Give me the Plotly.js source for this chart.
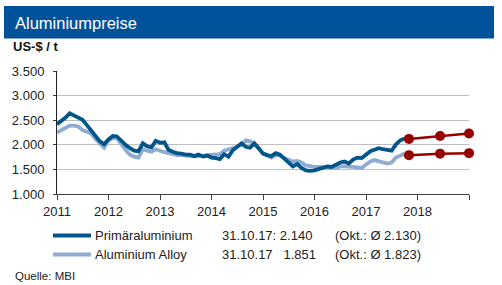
<!DOCTYPE html>
<html>
<head>
<meta charset="utf-8">
<script src="https://cdn.plot.ly/plotly-3.0.1.min.js"></script>
<style>
  html, body { margin: 0; padding: 0; background: #ffffff; }
  #chart { width: 502px; height: 285px; }
</style>
</head>
<body>
<div id="chart"></div>
<script>
// Monthly aluminium prices, US-$ per tonne, Jan 2011 – Oct 2017
const startYear = 2011;
const primaer = [
  2420, 2480, 2550, 2640, 2600, 2540, 2510, 2400, 2300, 2180, 2070, 2010,
  2110, 2180, 2170, 2070, 2000, 1930, 1880, 1870, 2030, 1970, 1950, 2080,
  2040, 2050, 1900, 1860, 1830, 1820, 1800, 1800, 1770, 1800, 1760, 1780,
  1740, 1730, 1710, 1810, 1760, 1890, 1950, 2030, 1960, 1940, 2030, 1930,
  1820, 1790, 1770, 1830, 1800, 1720, 1640, 1560, 1610, 1530, 1480, 1470,
  1480, 1510, 1530, 1560, 1550, 1600, 1640, 1660, 1620, 1700, 1740, 1730,
  1800, 1870, 1900, 1930, 1910, 1890, 1880, 2010, 2090, 2130
];
const alloy = [
  2250, 2300, 2360, 2390, 2390, 2370, 2300, 2260, 2230, 2120, 2020, 1940,
  2090, 2140, 2130, 2000, 1900, 1800, 1760, 1740, 1910, 1880, 1860, 1910,
  1870, 1850, 1830, 1800, 1790, 1790, 1780, 1770, 1780, 1770, 1780, 1790,
  1790, 1800, 1810, 1880, 1900, 1940, 1960, 2000, 2090, 2070, 2020, 1940,
  1830, 1780, 1740, 1790, 1780, 1730, 1700, 1660, 1670, 1640, 1580, 1560,
  1550, 1550, 1540, 1540, 1530, 1530, 1560, 1560, 1560, 1550, 1540, 1530,
  1600, 1660, 1690, 1670, 1650, 1620, 1640, 1740, 1780, 1823
];

// Forecast points
const forecastDates = ['2017-11-01', '2018-06-10', '2019-01-01'];
const primaerForecast = [2120, 2180, 2230];
const alloyForecast = [1790, 1820, 1830];

// Axis ticks
const yearTicks = ['2011', '2012', '2013', '2014', '2015', '2016', '2017', '2018', '2019'];
const yearLabels = ['2011', '2012', '2013', '2014', '2015', '2016', '2017', '2018', ''];

// Legend texts
const seriesNames = ['Primäraluminium', 'Aluminium Alloy'];
const spotTexts = ['31.10.17: 2.140', '31.10.17   1.851'];
const avgTexts = ['(Okt.: Ø 2.130)', '(Okt.: Ø 1.823)'];

const months = primaer.map((_, i) => {
  const y = startYear + Math.floor(i / 12);
  const m = (i % 12) + 1;
  return y + '-' + String(m).padStart(2, '0') + '-01';
});

const DARK = '#00568A';
const LIGHT = '#8EABD3';
const RED = '#980000';
const FONT = 'Liberation Sans, Arial, sans-serif';

// Plot-area geometry in pixels
const W = 502, H = 285;
const L = 57, R = 469, T = 71, B = 194;
const px2x = p => (p - L) / (R - L);
const px2y = p => (B - p) / (B - T);

const traces = [
  { x: months, y: alloy, type: 'scatter', mode: 'lines',
    line: { color: LIGHT, width: 3.8 }, hoverinfo: 'skip' },
  { x: months, y: primaer, type: 'scatter', mode: 'lines',
    line: { color: DARK, width: 3.8 }, hoverinfo: 'skip' },
  { x: forecastDates, y: primaerForecast, type: 'scatter', mode: 'lines+markers',
    line: { color: RED, width: 2.5 }, marker: { color: RED, size: 10 },
    cliponaxis: false, hoverinfo: 'skip' },
  { x: forecastDates, y: alloyForecast, type: 'scatter', mode: 'lines+markers',
    line: { color: RED, width: 2.5 }, marker: { color: RED, size: 10 },
    cliponaxis: false, hoverinfo: 'skip' }
];

const legendRows = [235.5, 254.5];
const legendColors = [DARK, LIGHT];

const shapes = [
  // title banner
  { type: 'rect', xref: 'paper', yref: 'paper',
    x0: px2x(4), x1: px2x(494), y0: px2y(38.5), y1: px2y(6),
    fillcolor: '#00529B', line: { width: 0 }, layer: 'below' }
];
const annotations = [
  { text: '<b>US-$ / t</b>', xref: 'paper', yref: 'paper',
    x: px2x(11), y: px2y(46.5), xanchor: 'left', yanchor: 'middle',
    showarrow: false, font: { family: FONT, size: 13, color: '#111' } },
  { text: 'Quelle: MBI', xref: 'paper', yref: 'paper',
    x: px2x(13), y: px2y(275.5), xanchor: 'left', yanchor: 'middle',
    showarrow: false, font: { family: FONT, size: 11.5, color: '#222' } }
];

legendRows.forEach((py, i) => {
  shapes.push({ type: 'line', xref: 'paper', yref: 'paper',
    x0: px2x(53), x1: px2x(91), y0: px2y(py), y1: px2y(py),
    line: { color: legendColors[i], width: 4 } });
  annotations.push({ text: seriesNames[i], xref: 'paper', yref: 'paper',
    x: px2x(92.5), y: px2y(py), xanchor: 'left', yanchor: 'middle',
    showarrow: false, font: { family: FONT, size: 13, color: '#222' } });
  annotations.push({ text: spotTexts[i], xref: 'paper', yref: 'paper',
    x: px2x(220), y: px2y(py), xanchor: 'left', yanchor: 'middle',
    showarrow: false, font: { family: FONT, size: 13, color: '#222' } });
  annotations.push({ text: avgTexts[i], xref: 'paper', yref: 'paper',
    x: px2x(333), y: px2y(py), xanchor: 'left', yanchor: 'middle',
    showarrow: false, font: { family: FONT, size: 13, color: '#222' } });
});

const layout = {
  width: W, height: H,
  margin: { l: L, r: W - R, t: T, b: H - B, pad: 0 },
  paper_bgcolor: '#ffffff', plot_bgcolor: '#ffffff',
  separators: ',.',
  showlegend: false,
  title: { text: 'Aluminiumpreise', xref: 'container', yref: 'container',
    x: 15 / W, y: 1 - 23 / H, xanchor: 'left', yanchor: 'middle',
    font: { family: FONT, size: 16.5, color: '#ffffff' } },
  xaxis: {
    type: 'date', range: ['2011-01-01', '2019-01-01'],
    tickmode: 'array', tickvals: yearTicks, ticktext: yearLabels,
    ticks: 'outside', ticklen: 5, tickcolor: '#404040', tickwidth: 1,
    showline: true, linecolor: '#404040', linewidth: 1,
    showgrid: false, zeroline: false,
    tickfont: { family: FONT, size: 13, color: '#222' }, fixedrange: true
  },
  yaxis: {
    range: [1000, 3500], tick0: 1000, dtick: 500, tickformat: ',d',
    ticks: 'outside', ticklen: 3, tickcolor: '#404040',
    showline: true, linecolor: '#202020', linewidth: 1,
    showgrid: true, gridcolor: '#BFBFBF', gridwidth: 1, zeroline: false,
    ticklabelstandoff: 6,
    tickfont: { family: FONT, size: 13, color: '#222' }, fixedrange: true
  },
  shapes: shapes,
  annotations: annotations
};

Plotly.newPlot('chart', traces, layout, { displayModeBar: false, staticPlot: true });
</script>
</body>
</html>
